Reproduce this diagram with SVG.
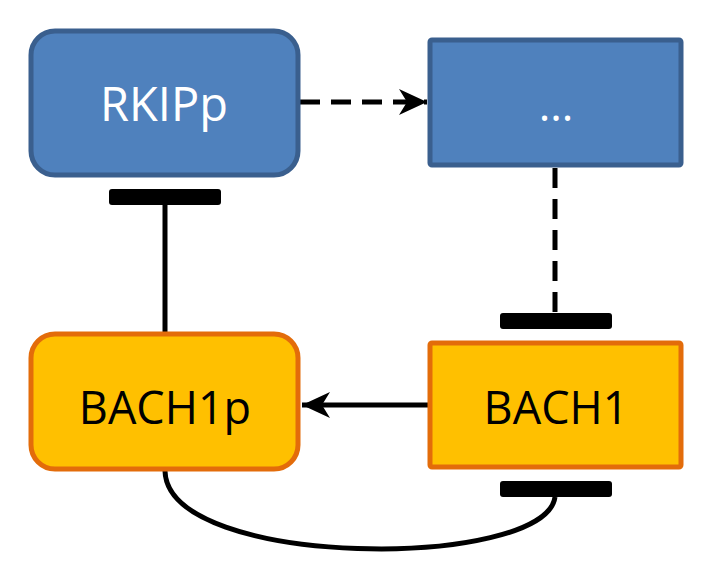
<svg xmlns="http://www.w3.org/2000/svg" width="714" height="575" viewBox="0 0 714 575">
<defs>
<marker id="arr" markerUnits="userSpaceOnUse" markerWidth="30" markerHeight="30" viewBox="0 0 30 30" refX="28" refY="15" orient="auto">
<path d="M0,2 L28,15 L0,28 L8,15 Z" fill="#000"/>
</marker>
</defs>
<style>
.blue{fill:#4f81bd;stroke:#3a5f8e;stroke-width:5}
.orange{fill:#ffc000;stroke:#e36c0a;stroke-width:5}
.lbl{font-family:"Open Sans","Liberation Sans",sans-serif;text-anchor:middle}
.edge{fill:none;stroke:#000;stroke-width:5}
.bar{fill:#000}
</style>
<g id="connectors">
<path class="edge" d="M300,102 L427,102" stroke-dasharray="20,11" marker-end="url(#arr)"/>
<path class="edge" d="M555,168 L555,314" stroke-dasharray="20,11"/>
<rect class="bar" x="500" y="313" width="112" height="16" rx="3"/>
<path class="edge" d="M165,332 L165,205"/>
<rect class="bar" x="109" y="189" width="112" height="16" rx="3"/>
<path class="edge" d="M428,405 L302,405" marker-end="url(#arr)"/>
<path class="edge" d="M165,471 C168,570 545,570 555,497"/>
<rect class="bar" x="500" y="481" width="112" height="16" rx="3"/>
</g>
<g id="RKIPp">
<rect class="blue" x="31" y="31" width="267" height="144" rx="24"/>
<text class="lbl" x="164" y="121" font-size="47" fill="#fff">RKIPp</text>
</g>
<g id="dots">
<rect class="blue" x="430" y="40" width="251" height="125" rx="2"/>
<text class="lbl" x="556" y="121" font-size="44" fill="#fff">...</text>
</g>
<g id="BACH1p">
<rect class="orange" x="31" y="334" width="267" height="135" rx="24"/>
<text class="lbl" x="165" y="424" font-size="45" fill="#000">BACH1p</text>
</g>
<g id="BACH1">
<rect class="orange" x="430" y="343" width="251" height="124" rx="2"/>
<text class="lbl" x="556" y="424" font-size="45" fill="#000">BACH1</text>
</g>
</svg>
